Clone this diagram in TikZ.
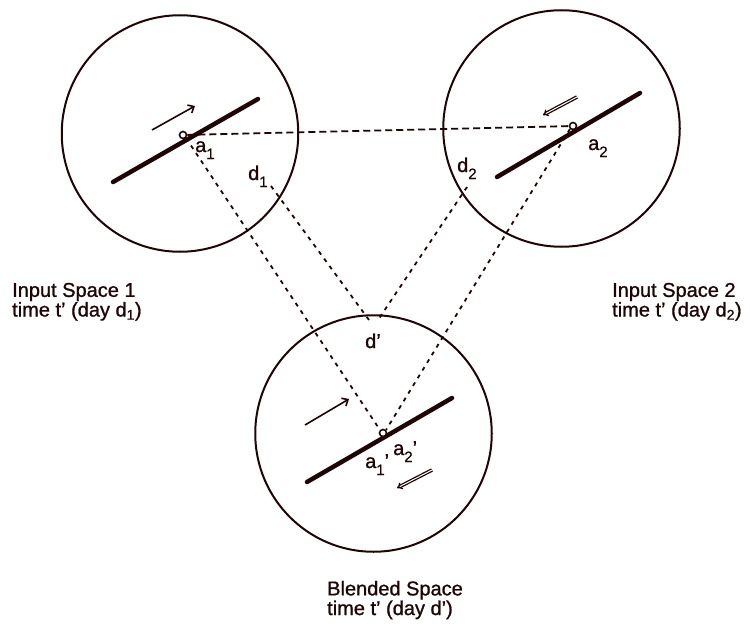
\documentclass[tikz,border=0pt]{standalone}
\usepackage{fontspec}
\setmainfont[FakeBold=1]{Liberation Sans}
\usetikzlibrary{arrows.meta}
\definecolor{ink}{RGB}{30,6,6}
\newcommand\lowsub[1]{\raisebox{-7pt}{\fontsize{15}{15}\selectfont #1}}
\begin{document}
\begin{tikzpicture}[x=1pt,y=-1pt,color=ink,
  space/.style={circle, draw=ink, line width=2pt, minimum size=236.5pt, inner sep=0pt},
  bar/.style={line width=4.5pt, line cap=round},
  pt/.style={circle, draw=ink, fill=white, line width=1.6pt, minimum size=7pt, inner sep=0pt},
  link/.style={line width=1.8pt, dash pattern=on 4pt off 5pt},
  hlink/.style={line width=1.8pt, dash pattern=on 7pt off 4pt},
  fwd/.style={line width=1.6pt, -{Straight Barb[length=5pt,width=9pt,line width=1.6pt]}},
  bwd/.style={line width=1.3pt, double=white, double distance=1pt, -{Implies}},
  lab/.style={font=\fontsize{20}{20}\selectfont, anchor=base west, inner sep=0pt},
  capt/.style={font=\fontsize{20}{17}\selectfont, anchor=north west, inner sep=0pt, align=left}]
\useasboundingbox[fill=white] (0,0) rectangle (750,626);

% spaces
\node[space] (s1) at (180,133.5) {};
\node[space] (s2) at (561.5,128.5) {};
\node[space] (s3) at (373.5,433.5) {};

% bars
\coordinate (l1a) at (113,182); \coordinate (l1b) at (258,99);
\coordinate (l2a) at (497,177); \coordinate (l2b) at (640,93);
\coordinate (l3a) at (307,482); \coordinate (l3b) at (452,398);
\draw[bar] (l1a) -- (l1b);
\draw[bar] (l2a) -- (l2b);
\draw[bar] (l3a) -- (l3b);

% points
\node[pt] (a1) at (183,135) {};
\node[pt] (a2) at (573,126) {};
\node[pt] (b) at (383,433) {};

% dashed connections
\draw[hlink] (a1) -- (a2);
\draw[link] (a1.south east) -- (b.north west);
\draw[link] (a2.south west) -- (b.north east);
\coordinate (d1s) at (271,186); \coordinate (d1e) at (369,320);
\coordinate (d2s) at (467,187); \coordinate (d2e) at (378,320);
\draw[link] (d1s) -- (d1e);
\draw[link] (d2s) -- (d2e);

% direction arrows
\coordinate (f1s) at (152,130); \coordinate (f1e) at (195,106);
\coordinate (f2s) at (577,97);  \coordinate (f2e) at (543,115);
\coordinate (f3s) at (305,425); \coordinate (f3e) at (349,399);
\coordinate (f4s) at (432,470); \coordinate (f4e) at (397,488);
\draw[fwd] (f1s) -- (f1e);
\draw[bwd] (f2s) -- (f2e);
\draw[fwd] (f3s) -- (f3e);
\draw[bwd] (f4s) -- (f4e);

% labels
\node[lab] (la1) at (195,152) {a\lowsub{1}};
\node[lab] (la2) at (588,150) {a\lowsub{2}};
\node[lab] (ld1) at (248,180) {d\lowsub{1}};
\node[lab] (ld2) at (457,172) {d\lowsub{2}};
\node[lab] (lb1) at (365,468) {a\lowsub{1}'};
\node[lab] (lb2) at (393,455) {a\lowsub{2}'};
\node[lab] (ldb) at (365,348) {d'};

% captions
\node[capt] (c1) at (12,282.7) {Input Space 1\\time t' (day d\textsubscript{1})};
\node[capt] (c2) at (612,282.7) {Input Space 2\\time t' (day d\textsubscript{2})};
\node[capt] (c3) at (327,580.7) {Blended Space\\time t' (day d')};
\end{tikzpicture}
\end{document}
